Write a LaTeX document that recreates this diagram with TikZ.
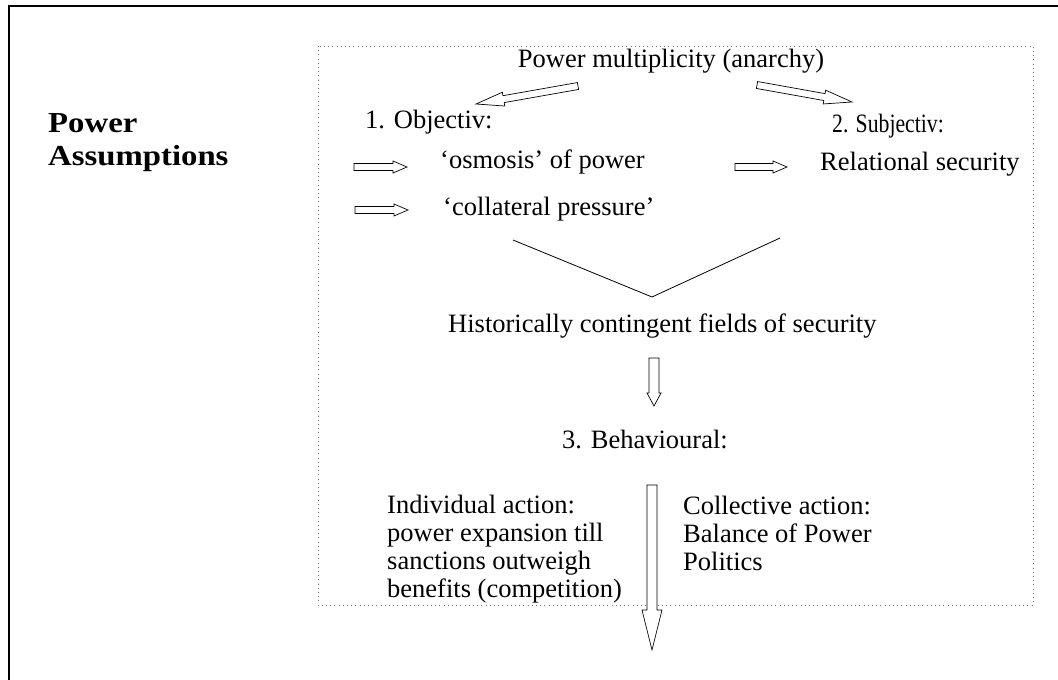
\documentclass[tikz,border=0pt]{standalone}
\usepackage{fontspec}
\setmainfont{Liberation Serif}
\newfontfamily\headfont{Liberation Serif}[FakeStretch=1.13]
\newfontfamily\narrowfont{Liberation Serif}[FakeStretch=0.82]
\usetikzlibrary{calc}

\tikzset{
  txt/.style={anchor=base west, inner sep=0pt, font=\fontsize{26.5}{27.7}\selectfont},
  narrowtxt/.style={anchor=base west, inner sep=0pt, font=\narrowfont\fontsize{26.5}{27.7}\selectfont},
  title/.style={anchor=base west, inner sep=0pt, align=left, font=\headfont\fontsize{29}{33}\selectfont\bfseries},
  frame/.style={line width=2.5pt},
  dotbox/.style={black!55, line width=0.9pt, dash pattern=on 1pt off 3.2pt},
  barrow/.style={draw=black, fill=white, line width=0.7pt, line join=miter},
  vline/.style={line width=0.8pt},
}

% block arrow: tail, tip, shaft half-width, head half-width, head length
\newcommand\blockarrow[5]{%
  \coordinate (ba-h) at ($(#2)!#5!(#1)$);
  \draw[barrow] ($(#1)!#3!90:(#2)$) -- ($(ba-h)!#3!90:(#2)$)
     -- ($(ba-h)!#4!90:(#2)$) -- (#2) -- ($(ba-h)!#4!-90:(#2)$)
     -- ($(ba-h)!#3!-90:(#2)$) -- ($(#1)!#3!-90:(#2)$) -- cycle;}

\begin{document}
\begin{tikzpicture}[x=1pt,y=-1pt]
\useasboundingbox (0,0) rectangle (1058,680);

% outer frame
\draw[frame] (9,690) -- (9,6) -- (1070,6);

% dotted panel
\draw[dotbox] (318,46) rectangle (1033,605);

% heading (base anchor sits on the last line)
\node[title] (head) at (48,165) {Power\\Assumptions};

% texts
\node[txt, anchor=base] (multi) at (671,67) {Power multiplicity (anarchy)};
\node[txt] (obj) at (365,128) {1. Objectiv:};
\node[narrowtxt] (subj) at (832,132) {2. Subjectiv:};
\node[txt] (osmo) at (440,168) {\char"0060 osmosis' of power};
\node[txt] (rel) at (820,170) {Relational security};
\node[txt] (coll) at (443,215) {\char"0060 collateral pressure'};
\node[txt] (hist) at (448,332) {Historically contingent fields of security};
\node[txt] (beh) at (562,448) {3. Behavioural:};
\node[txt, align=left] (indiv) at (387,597) {Individual action:\\power expansion till\\sanctions outweigh\\benefits (competition)};
\node[txt, align=left] (collact) at (683,570) {Collective action:\\Balance of Power\\Politics};

% arrow end points
\coordinate (m-l) at (578,86);
\coordinate (o-t) at (476,104);
\coordinate (m-r) at (757,85);
\coordinate (s-t) at (852,102);
\coordinate (a1s) at (354,167);
\coordinate (a1e) at (407,167);
\coordinate (a2s) at (355,210);
\coordinate (a2e) at (408,210);
\coordinate (a3s) at (735,167);
\coordinate (a3e) at (787,167);
\coordinate (h-s) at (654,358);
\coordinate (h-e) at (654,406);
\coordinate (b-s) at (652,485);
\coordinate (b-e) at (652,650);

\blockarrow{m-l}{o-t}{3.5pt}{7pt}{28pt}
\blockarrow{m-r}{s-t}{3.5pt}{7pt}{28pt}
\blockarrow{a1s}{a1e}{3.5pt}{6pt}{14pt}
\blockarrow{a2s}{a2e}{3.5pt}{6pt}{14pt}
\blockarrow{a3s}{a3e}{3.5pt}{6pt}{14pt}
\blockarrow{h-s}{h-e}{5pt}{7pt}{13pt}
\blockarrow{b-s}{b-e}{5pt}{10pt}{40pt}

% converging lines
\coordinate (v-l) at (513,240);
\coordinate (v-m) at (652,297);
\coordinate (v-r) at (780,238);
\draw[vline] (v-l) -- (v-m) -- (v-r);
\end{tikzpicture}
\end{document}
